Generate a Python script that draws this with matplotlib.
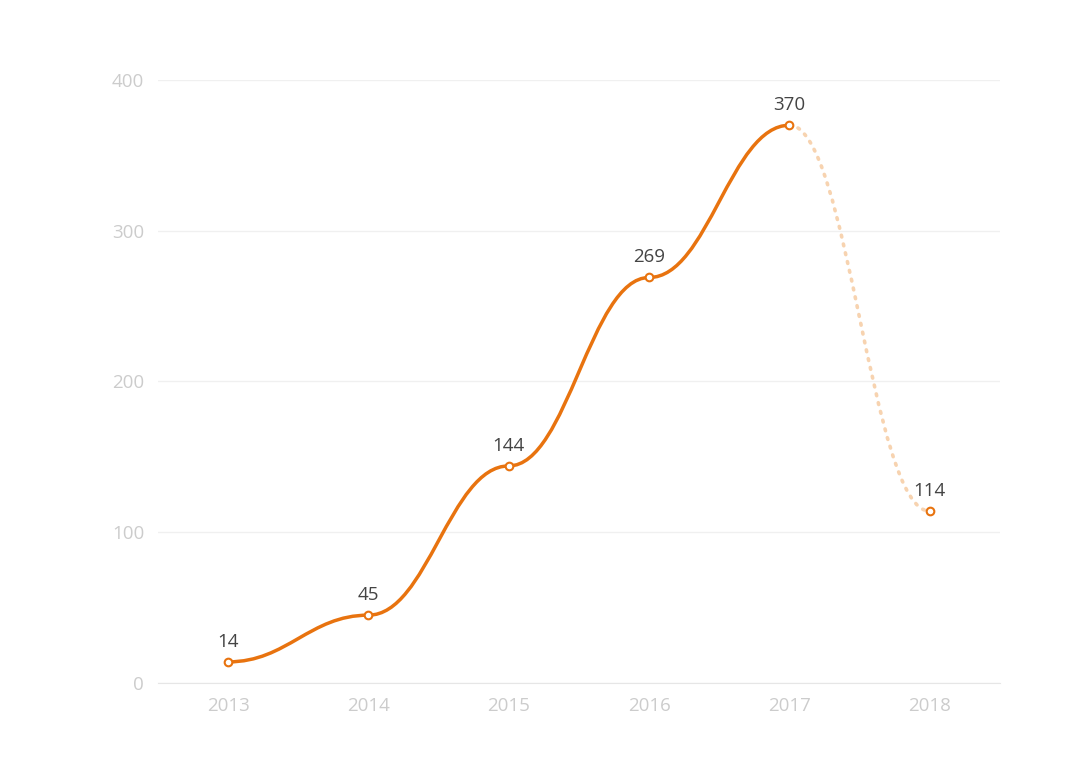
import matplotlib.pyplot as plt
from matplotlib.path import Path
from matplotlib.patches import PathPatch

years = ['2013', '2014', '2015', '2016', '2017', '2018']
values = [14, 45, 144, 269, 370, 114]
yticks = [0, 100, 200, 300, 400]

orange = '#e8730f'
light_orange = '#f7d3b0'

plt.rcParams['font.family'] = ['Open Sans', 'DejaVu Sans']

fig = plt.figure(figsize=(10.8, 7.62), dpi=100)
ax = fig.add_axes([0.1463, 0.1037, 0.7796, 0.7913])

x = list(range(len(years)))


def smooth_path(xs, ys, k=0.42):
    # cubic bezier through the points with flat tangents at each point
    verts = [(xs[0], ys[0])]
    codes = [Path.MOVETO]
    for i in range(len(xs) - 1):
        dx = xs[i + 1] - xs[i]
        verts += [(xs[i] + dx * k, ys[i]), (xs[i + 1] - dx * k, ys[i + 1]), (xs[i + 1], ys[i + 1])]
        codes += [Path.CURVE4] * 3
    return Path(verts, codes)


solid = smooth_path(x[:5], values[:5])
ax.add_patch(PathPatch(solid, facecolor='none', edgecolor=orange, lw=2.5,
                       capstyle='round', zorder=3))
dotted = smooth_path(x[4:], values[4:])
ax.add_patch(PathPatch(dotted, facecolor='none', edgecolor=light_orange, lw=2.6,
                       linestyle=(0, (0.5, 2.0)), capstyle='round', zorder=2))

ax.plot(x, values, linestyle='none', marker='o', markersize=5.5,
        markerfacecolor='white', markeredgecolor=orange, markeredgewidth=1.5, zorder=4)

for xi, v in zip(x, values):
    ax.annotate(str(v), (xi, v), xytext=(0, 8), textcoords='offset points',
                ha='center', va='bottom', fontsize=13.5, color='#444444')

ax.set_xlim(-0.5, len(years) - 0.5)
ax.set_ylim(0, 400)
ax.set_xticks(x)
ax.set_xticklabels(years)
ax.set_yticks(yticks)

ax.tick_params(axis='both', length=0, labelsize=13.5, labelcolor='#cccccc')
ax.tick_params(axis='x', pad=10)
ax.tick_params(axis='y', pad=10)

ax.grid(axis='y', color='#f0f0f0', lw=1)
ax.set_axisbelow(True)
for side in ['top', 'right', 'left']:
    ax.spines[side].set_visible(False)
ax.spines['bottom'].set_color('#e6e6e6')

fig.savefig('out.png', dpi=100, facecolor='white')
